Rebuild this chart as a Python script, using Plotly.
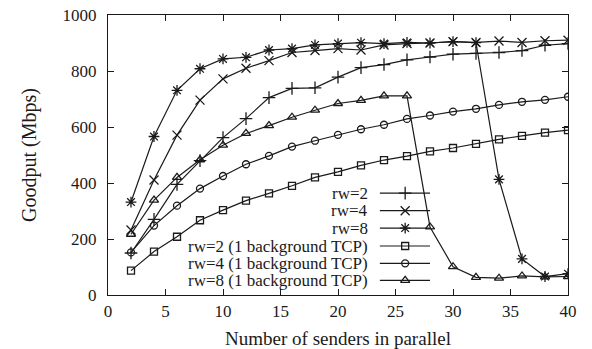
import plotly.graph_objects as go

senders = [2, 4, 6, 8, 10, 12, 14, 16, 18, 20, 22, 24, 26, 28, 30, 32, 34, 36, 38, 40]

rw2 = [150, 270, 395, 480, 562, 630, 705, 738, 740, 778, 812, 823, 840, 850, 860, 863, 866, 873, 892, 898]
rw4 = [232, 411, 571, 696, 772, 810, 837, 866, 873, 880, 875, 893, 898, 900, 905, 902, 907, 902, 908, 910]
rw8 = [332, 566, 731, 808, 843, 849, 875, 880, 893, 898, 901, 898, 902, 900, 905, 901, 413, 129, 66, 76]
rw2_bg = [87, 155, 208, 267, 303, 337, 363, 390, 420, 440, 463, 482, 496, 513, 525, 540, 556, 568, 580, 589]
rw4_bg = [152, 248, 319, 380, 425, 467, 497, 530, 551, 572, 592, 608, 629, 641, 655, 665, 679, 690, 697, 708]
rw8_bg = [217, 339, 420, 483, 535, 577, 605, 635, 660, 684, 695, 711, 711, 243, 101, 63, 60, 68, 65, 66]

names = ["rw=2", "rw=4", "rw=8",
         "rw=2 (1 background TCP)", "rw=4 (1 background TCP)", "rw=8 (1 background TCP)"]
series = [rw2, rw4, rw8, rw2_bg, rw4_bg, rw8_bg]
symbols = ["cross-thin", "x-thin", "asterisk", "square-open", "circle-open", "triangle-up-open"]
sizes = [9, 9, 9, 7, 7, 8]

INK = "#1a1a1a"
FONT = "Liberation Serif"

fig = go.Figure()
for name, vals, sym, sz in zip(names, series, symbols, sizes):
    fig.add_trace(go.Scatter(
        x=senders, y=vals, mode="lines+markers", name=name, showlegend=False,
        line=dict(color=INK, width=1.2),
        marker=dict(symbol=sym, size=sz, color=INK, line=dict(color=INK, width=1.3)),
    ))

# gnuplot-style key: right-aligned text followed by a line sample (drawn on a hidden 0..1 overlay axis)
key_text_x = 0.570
key_line = [0.591, 0.70]
key_mid = 0.646
key_rows = [0.364, 0.301, 0.239, 0.175, 0.113, 0.052]
for name, sym, sz, ky in zip(names, symbols, sizes, key_rows):
    fig.add_trace(go.Scatter(
        x=key_line, y=[ky, ky], mode="lines", xaxis="x2", yaxis="y2", showlegend=False,
        line=dict(color=INK, width=1.2), hoverinfo="skip"))
    fig.add_trace(go.Scatter(
        x=[key_mid], y=[ky], mode="markers", xaxis="x2", yaxis="y2", showlegend=False,
        marker=dict(symbol=sym, size=sz, color=INK, line=dict(color=INK, width=1.3)),
        hoverinfo="skip"))
    fig.add_annotation(x=key_text_x, y=ky, xref="x2", yref="y2", text=name, showarrow=False,
                       xanchor="right", yanchor="middle",
                       font=dict(family=FONT, size=17, color=INK))

axis_common = dict(
    showline=True, linecolor=INK, linewidth=1, mirror="allticks",
    ticks="inside", ticklen=6, tickwidth=1, tickcolor=INK,
    showgrid=False, zeroline=False, automargin=False,
    tickfont=dict(family=FONT, size=17, color=INK),
)

fig.update_layout(
    width=592, height=349,
    margin=dict(l=108, r=24, t=15, b=54),
    paper_bgcolor="white", plot_bgcolor="white",
    xaxis=dict(range=[0, 40], dtick=5, ticklabelstandoff=1,
               title=dict(text="Number of senders in parallel",
                          font=dict(family=FONT, size=19, color=INK), standoff=12), **axis_common),
    yaxis=dict(range=[0, 1000], dtick=200, ticklabelstandoff=7,
               title=dict(text="Goodput (Mbps)",
                          font=dict(family=FONT, size=20, color=INK), standoff=20), **axis_common),
    xaxis2=dict(range=[0, 1], overlaying="x", visible=False),
    yaxis2=dict(range=[0, 1], overlaying="y", visible=False),
    showlegend=False,
)

fig.write_html("out.html")
